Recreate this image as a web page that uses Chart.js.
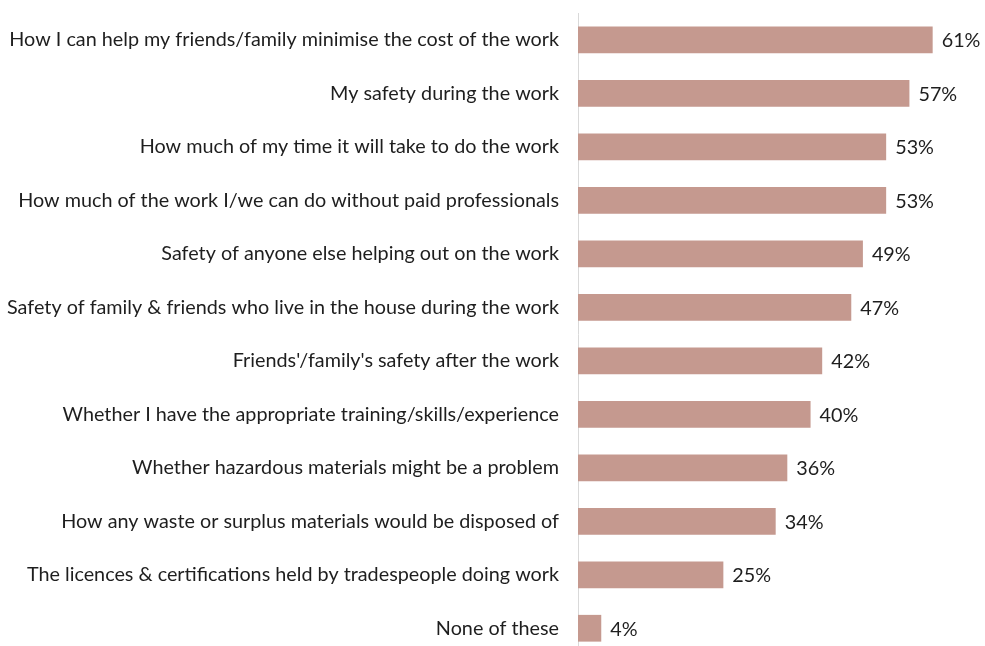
<!DOCTYPE html>
<html>
<head>
<meta charset="utf-8">
<script src="https://cdn.jsdelivr.net/npm/chart.js@4.4.1/dist/chart.umd.min.js"></script>
<style>
  html, body { margin: 0; padding: 0; background: #fff; overflow: hidden; }
  #wrap { width: 985px; height: 660px; position: relative; }
</style>
</head>
<body>
<div id="wrap"><canvas id="c"></canvas></div>
<script>
const categories = [
  "How I can help my friends/family minimise the cost of the work",
  "My safety during the work",
  "How much of my time it will take to do the work",
  "How much of the work I/we can do without paid professionals",
  "Safety of anyone else helping out on the work",
  "Safety of family & friends who live in the house during the work",
  "Friends'/family's safety after the work",
  "Whether I have the appropriate training/skills/experience",
  "Whether hazardous materials might be a problem",
  "How any waste or surplus materials would be disposed of",
  "The licences & certifications held by tradespeople doing work",
  "None of these"
];
const shares = [61, 57, 53, 53, 49, 47, 42, 40, 36, 34, 25, 4];

// Percentage text at the end of each bar
const valueLabels = {
  id: 'valueLabels',
  afterDatasetsDraw(chart) {
    const ctx = chart.ctx;
    const meta = chart.getDatasetMeta(0);
    ctx.save();
    ctx.font = '19.8px Lato';
    ctx.fillStyle = '#1e1e1e';
    ctx.textAlign = 'left';
    ctx.textBaseline = 'middle';
    meta.data.forEach((bar, i) => {
      ctx.fillText(shares[i] + '%', bar.x + 9, bar.y + 1);
    });
    ctx.restore();
  }
};

new Chart(document.getElementById('c'), {
  type: 'bar',
  data: {
    labels: categories,
    datasets: [{
      data: shares,
      backgroundColor: '#C5998F',
      borderWidth: 0,
      barPercentage: 0.5,
      categoryPercentage: 1.0
    }]
  },
  options: {
    indexAxis: 'y',
    responsive: true,
    maintainAspectRatio: false,
    animation: false,
    layout: { padding: { top: 13, bottom: 5, left: 0, right: 0 } },
    plugins: { legend: { display: false }, tooltip: { enabled: false } },
    scales: {
      x: { display: false, min: 0, max: 70 },
      y: {
        grid: { display: false },
        border: { display: true, color: '#d9d9d9', width: 1 },
        ticks: { color: '#1e1e1e', font: { family: 'Lato', size: 19.8 }, padding: 11, autoSkip: false },
        afterFit(scale) {
          scale.width = 578;
          scale.paddingTop = 0;
          scale.paddingBottom = 0;
        }
      }
    }
  },
  plugins: [valueLabels]
});
</script>
</body>
</html>
